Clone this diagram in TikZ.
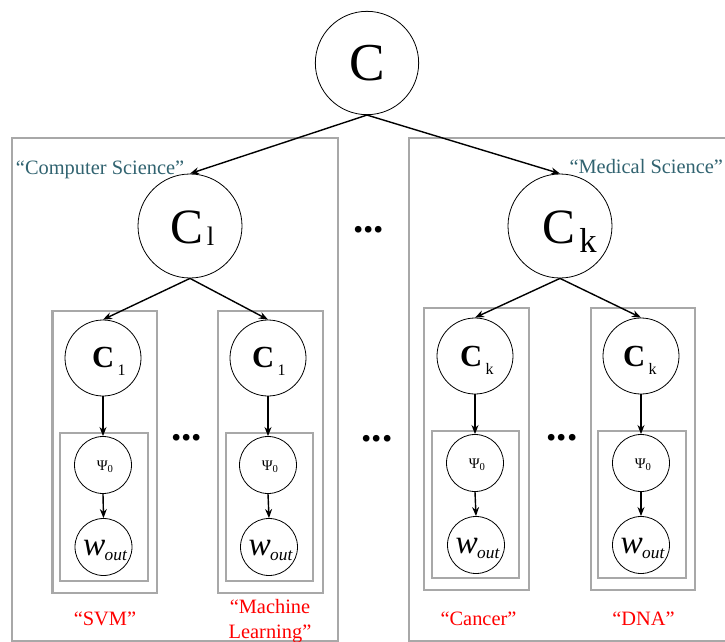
\documentclass[tikz,border=0pt]{standalone}
\usepackage{fontspec}
\setmainfont{Liberation Serif}
\usetikzlibrary{arrows.meta}
\definecolor{tealtxt}{RGB}{49,99,112}
\definecolor{boxgray}{RGB}{168,168,168}
\definecolor{redtxt}{RGB}{255,0,0}
\tikzset{
  gbox/.style={draw=boxgray, line width=1.6pt},
  circ/.style={circle, draw=black, line width=0.6pt, fill=white, inner sep=0pt},
  bigcirc/.style={circ, minimum size=77.5pt},
  midcirc/.style={circ, minimum size=57pt},
  smallcirc/.style={circ, minimum size=42.75pt},
  arr/.style={-{Stealth[length=6.8pt,width=5.2pt]}, line width=1.05pt, black},
  txt/.style={inner sep=0pt, outer sep=0pt},
  lbl/.style={txt, font=\fontsize{15.3}{15.3}\selectfont},
  dots/.style={txt, anchor=base, font=\fontsize{31}{31}\selectfont\bfseries},
}
\newcommand{\bigC}[1]{\fontsize{37}{37}\selectfont C\kern2.6pt\raisebox{-1.5pt}{\fontsize{20}{20}\selectfont #1}}
\newcommand{\bigCk}[1]{\fontsize{37}{37}\selectfont C\kern3pt\raisebox{-6.75pt}{\fontsize{26}{26}\selectfont #1}}
\newcommand{\midC}[1]{\fontsize{23}{23}\selectfont\bfseries C\kern2.6pt\raisebox{-6pt}{\fontsize{12}{12}\mdseries\selectfont #1}}
\newcommand{\psitxt}{\fontsize{11}{11}\selectfont Ψ\raisebox{-2pt}{\fontsize{8}{8}\selectfont 0}}
\newcommand{\wtxt}{\fontsize{25}{25}\selectfont\itshape w\kern-0.5pt\raisebox{-3.8pt}{\fontsize{13}{13}\selectfont out}}
\begin{document}
\begin{tikzpicture}[x=0.75pt,y=-0.75pt]
\useasboundingbox (0,0) rectangle (725,642);
% big boxes
\draw[gbox] (12,138) rectangle (338,641);
\draw[gbox] (409,138) rectangle (745,641);
% outer sub boxes
\draw[gbox] (52.5,311) rectangle (157,593);
\draw[gbox] (218,311) rectangle (323,593);
\draw[gbox] (424,308) rectangle (529,590);
\draw[gbox] (591,308) rectangle (695,590);
% inner sub boxes
\draw[gbox] (60,433) rectangle (148,581);
\draw[gbox] (226,433) rectangle (313,581);
\draw[gbox] (432,431) rectangle (519,578);
\draw[gbox] (598,431) rectangle (686,578);

% circles
\node[bigcirc] (C) at (367,63) {};
\node[bigcirc, minimum size=78pt] (C1) at (190,226) {};
\node[bigcirc, minimum size=78pt] (Ck) at (560,226) {};

\node[midcirc] (a1) at (103,358) {};
\node[midcirc] (b1) at (268,358) {};
\node[midcirc] (c1) at (475,356) {};
\node[midcirc] (d1) at (641,356) {};

\node[smallcirc] (a2) at (103,465) {};
\node[smallcirc] (b2) at (268,465) {};
\node[smallcirc] (c2) at (475,463) {};
\node[smallcirc] (d2) at (641,463) {};

\node[smallcirc] (a3) at (103.5,547) {};
\node[smallcirc] (b3) at (269,547) {};
\node[smallcirc] (c3) at (476,545) {};
\node[smallcirc] (d3) at (641,545) {};

% circle texts
\node[txt, anchor=base] (Ct) at (367.5,80) {\fontsize{40}{40}\selectfont C};
\node[txt, anchor=base west] (C1t) at (170.5,243) {\bigC{l}};
\node[txt, anchor=base west] (Ckt) at (542.5,243) {\bigCk{k}};

\node[txt, anchor=base west] (a1t) at (92,367) {\midC{1}};
\node[txt, anchor=base west] (b1t) at (252,367) {\midC{1}};
\node[txt, anchor=base west] (c1t) at (460,366) {\midC{k}};
\node[txt, anchor=base west] (d1t) at (623,366) {\midC{k}};

\node[txt, anchor=base] (a2t) at (105,470) {\psitxt};
\node[txt, anchor=base] (b2t) at (270,470) {\psitxt};
\node[txt, anchor=base] (c2t) at (477,468) {\psitxt};
\node[txt, anchor=base] (d2t) at (643,468) {\psitxt};

\node[txt, anchor=base] (a3t) at (105,555) {\wtxt};
\node[txt, anchor=base] (b3t) at (270.5,555) {\wtxt};
\node[txt, anchor=base] (c3t) at (477.5,553) {\wtxt};
\node[txt, anchor=base] (d3t) at (642.5,553) {\wtxt};

% arrows
\draw[arr] (C.south) -- (C1.north);
\draw[arr] (C.south) -- (Ck.north);
\draw[arr] (C1.south) -- (a1.north);
\draw[arr] (C1.south) -- (b1.north);
\draw[arr] (Ck.south) -- (c1.north);
\draw[arr] (Ck.south) -- (d1.north);
\foreach \n in {a,b,c,d}{
  \draw[arr] (\n1.south) -- (\n2.north);
  \draw[arr] (\n2.south) -- (\n3.north);
}

% dots
\node[dots] (dtop) at (368.5,232.5) {...};
\node[dots] (dmid) at (377,441) {...};
\node[dots] (dleft) at (186.5,440.5) {...};
\node[dots] (dright) at (562,440.5) {...};

% labels
\node[lbl, text=tealtxt, anchor=base west] (cs) at (16,174) {“Computer Science”};
\node[lbl, text=tealtxt, anchor=base east] (ms) at (723,173) {“Medical Science”};
\node[lbl, text=redtxt, anchor=base] (svm) at (105,625) {“SVM”};
\node[lbl, text=redtxt, anchor=base] (ml1) at (270,613) {“Machine};
\node[lbl, text=redtxt, anchor=base] (ml2) at (270,638) {Learning”};
\node[lbl, text=redtxt, anchor=base] (can) at (478.5,625) {“Cancer”};
\node[lbl, text=redtxt, anchor=base] (dna) at (643.5,625) {“DNA”};
\end{tikzpicture}
\end{document}
